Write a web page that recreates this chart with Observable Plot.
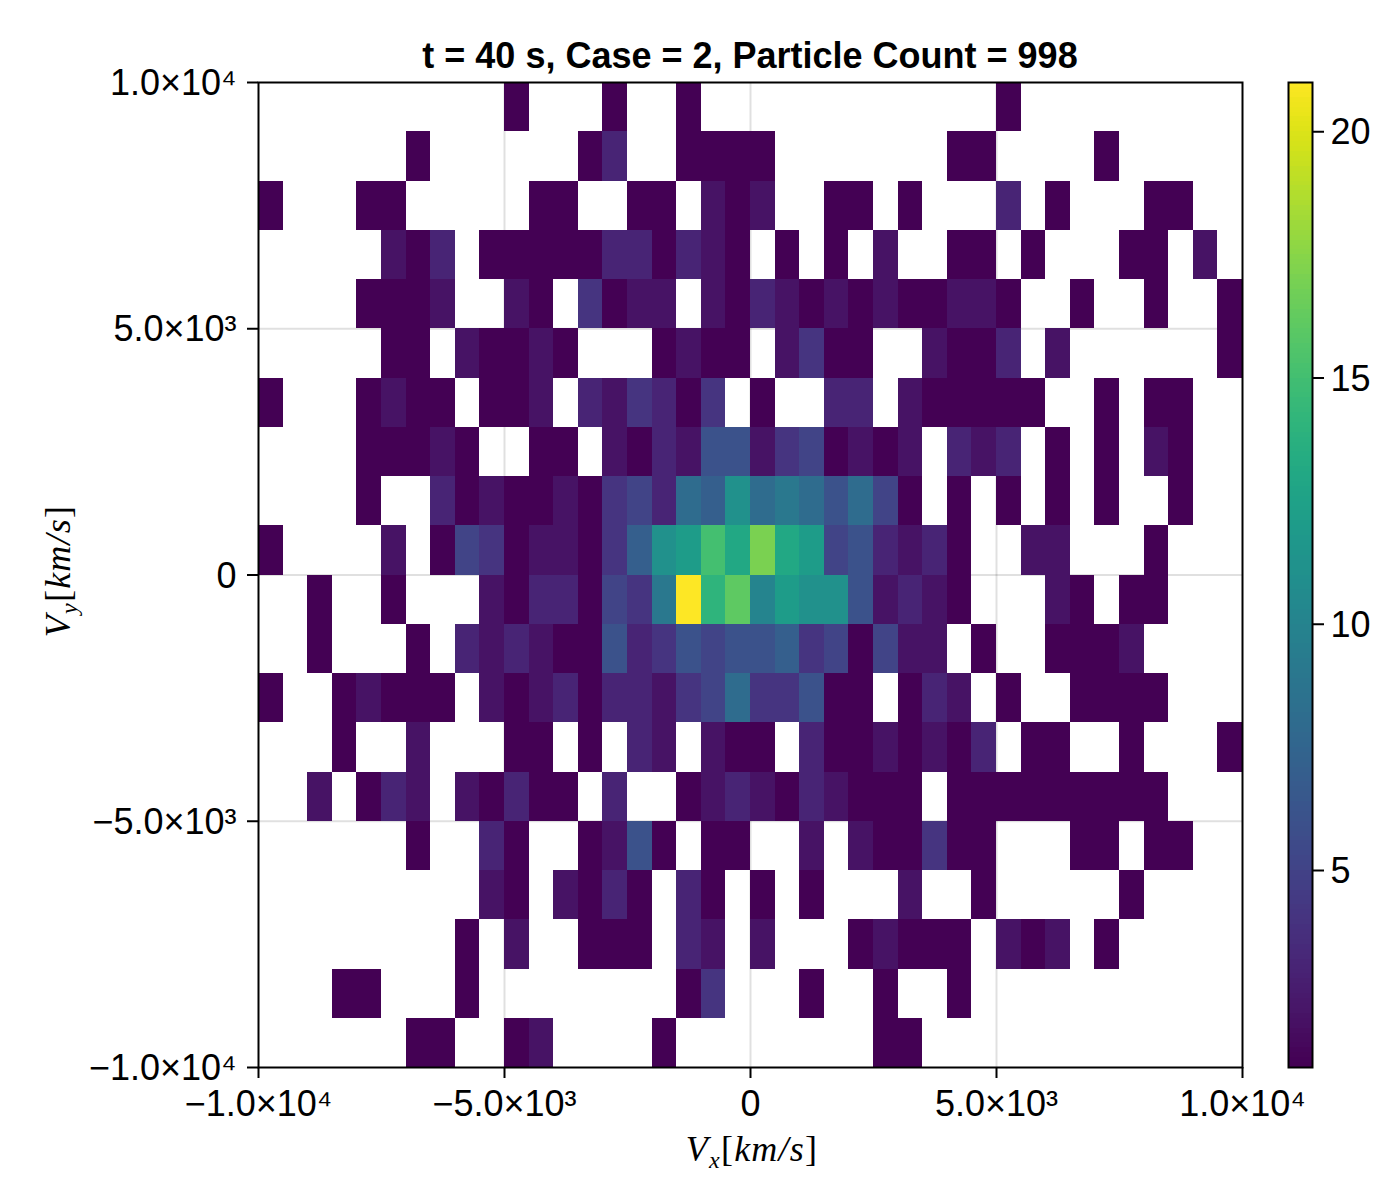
<!DOCTYPE html>
<html>
<head>
<meta charset="utf-8">
<script src="https://cdn.jsdelivr.net/npm/d3@7"></script>
<script src="https://cdn.jsdelivr.net/npm/@observablehq/plot@0.6"></script>
<style>
html,body{margin:0;padding:0;background:#fff;}
#wrap{position:relative;width:1400px;height:1200px;}
#wrap svg{position:absolute;top:0;overflow:visible;background:transparent;}
</style>
</head>
<body>
<div id="wrap"></div>
<script>
const titleText = "t = 40 s, Case = 2, Particle Count = 998";
const xDomain = [-10000, 10000];
const yDomain = [-10000, 10000];
const binWidth = 500;
const binHeight = 1000;
const axisTicks = [-10000, -5000, 0, 5000, 10000];
const axisTickLabels = ["\u22121.0×10\u2074", "\u22125.0×10\u00B3", "0", "5.0×10\u00B3", "1.0×10\u2074"];
const colorDomain = [1, 21];
const colorTicks = [5, 10, 15, 20];
// rows top (Vy 9000..10000) to bottom (Vy -10000..-9000); 0 = empty bin
const counts = [
[0,0,0,0,0,0,0,0,0,0, 1,0,0,0,1,0,0,1,0,0, 0,0,0,0,0,0,0,0,0,0, 1,0,0,0,0,0,0,0,0,0],
[0,0,0,0,0,0,1,0,0,0, 0,0,0,1,3,0,0,1,1,1, 1,0,0,0,0,0,0,0,1,1, 0,0,0,0,1,0,0,0,0,0],
[1,0,0,0,1,1,0,0,0,0, 0,1,1,0,0,1,1,0,2,1, 2,0,0,1,1,0,1,0,0,0, 3,0,1,0,0,0,1,1,0,0],
[0,0,0,0,0,2,1,3,0,1, 1,1,1,1,3,3,1,3,2,1, 0,1,0,1,0,2,0,0,1,1, 0,1,0,0,0,1,1,0,2,0],
[0,0,0,0,1,1,1,2,0,0, 2,1,0,4,1,2,2,0,2,1, 3,2,1,2,1,2,1,1,2,2, 1,0,0,1,0,0,1,0,0,1],
[0,0,0,0,0,1,1,0,2,1, 1,2,1,0,0,0,1,2,1,1, 0,2,4,1,1,0,0,2,1,1, 3,0,2,0,0,0,0,0,0,1],
[1,0,0,0,1,2,1,1,0,1, 1,2,0,3,2,4,3,1,4,0, 1,0,0,3,3,0,2,1,1,1, 1,1,0,0,1,0,1,1,0,0],
[0,0,0,0,1,1,1,2,1,0, 0,1,1,0,2,1,3,2,6,6, 2,4,5,1,2,1,2,0,3,2, 3,0,1,0,1,0,2,1,0,0],
[0,0,0,0,1,0,0,3,1,2, 1,1,2,1,4,5,3,8,7,11, 8,9,8,6,8,5,1,0,1,0, 1,0,1,0,1,0,0,1,0,0],
[1,0,0,0,0,2,0,1,5,4, 1,2,2,1,4,7,11,12,15,13, 17,13,12,5,6,3,2,3,1,0, 0,2,2,0,0,0,1,0,0,0],
[0,0,1,0,0,1,0,0,0,2, 1,3,3,1,5,4,9,21,14,16, 10,12,11,11,6,2,3,2,1,0, 0,0,2,1,0,1,1,0,0,0],
[0,0,1,0,0,0,1,0,3,2, 3,2,1,1,6,3,4,6,5,6, 6,7,4,5,1,5,2,2,0,1, 0,0,1,1,1,2,0,0,0,0],
[1,0,0,1,2,1,1,1,0,2, 1,2,3,1,3,3,2,4,5,8, 4,4,6,1,1,0,1,3,2,0, 1,0,0,1,1,1,1,0,0,0],
[0,0,0,1,0,0,2,0,0,0, 1,1,0,1,0,3,2,0,2,1, 1,0,3,1,1,2,1,2,1,3, 0,1,1,0,0,1,0,0,0,1],
[0,0,2,0,1,3,2,0,2,1, 3,1,1,0,3,0,0,1,2,3, 2,1,3,2,1,1,1,0,1,1, 1,1,1,1,1,1,1,0,0,0],
[0,0,0,0,0,0,1,0,0,3, 1,0,0,1,2,6,1,0,1,1, 0,0,2,0,2,1,1,4,1,1, 0,0,0,1,1,0,1,1,0,0],
[0,0,0,0,0,0,0,0,0,2, 1,0,2,1,3,1,0,3,1,0, 1,0,1,0,0,0,2,0,0,1, 0,0,0,0,0,1,0,0,0,0],
[0,0,0,0,0,0,0,0,1,0, 2,0,0,1,1,1,0,3,2,0, 2,0,0,0,1,2,1,1,1,0, 2,1,2,0,1,0,0,0,0,0],
[0,0,0,1,1,0,0,0,1,0, 0,0,0,0,0,0,0,1,4,0, 0,0,1,0,0,1,0,0,1,0, 0,0,0,0,0,0,0,0,0,0],
[0,0,0,0,0,0,1,1,0,0, 1,2,0,0,0,0,1,0,0,0, 0,0,0,0,0,1,1,0,0,0, 0,0,0,0,0,0,0,0,0,0]
];

const cells = [];
counts.forEach((row, r) => row.forEach((v, c) => {
  if (v > 0) cells.push({
    x1: xDomain[0] + c * binWidth, x2: xDomain[0] + (c + 1) * binWidth,
    y2: yDomain[1] - r * binHeight, y1: yDomain[1] - (r + 1) * binHeight,
    v
  });
}));

const sans = "'Liberation Sans', Arial, sans-serif";
const labelOf = d => axisTickLabels[axisTicks.indexOf(d)];
const colorScale = {type: "linear", scheme: "viridis", domain: colorDomain};

const main = Plot.plot({
  width: 1400, height: 1200,
  marginLeft: 258, marginRight: 158, marginTop: 82, marginBottom: 133,
  style: {fontFamily: sans, fontSize: "36px", background: "transparent", color: "#000"},
  x: {domain: xDomain}, y: {domain: yDomain},
  color: colorScale,
  marks: [
    Plot.ruleX(axisTicks.slice(1, -1), {stroke: "#000", strokeOpacity: 0.12, strokeWidth: 2}),
    Plot.ruleY(axisTicks.slice(1, -1), {stroke: "#000", strokeOpacity: 0.12, strokeWidth: 2}),
    Plot.rect(cells, {x1: "x1", x2: "x2", y1: "y1", y2: "y2", fill: "v", inset: 0, shapeRendering: "crispEdges"}),
    Plot.frame({stroke: "#000", strokeWidth: 2}),
    Plot.axisX(axisTicks, {anchor: "bottom", label: null, tickFormat: labelOf, tickSize: 11, tickPadding: 12, strokeWidth: 2, fontSize: 36, stroke: "#000"}),
    Plot.axisY(axisTicks, {anchor: "left", label: null, tickFormat: () => "", tickSize: 11, strokeWidth: 2, stroke: "#000"}),
    Plot.axisY(axisTicks, {anchor: "left", label: null, tickFormat: labelOf, tickSize: 0, tickPadding: 22, dy: 1, fontSize: 36})
  ]
});

// Title and math-style axis labels
const svg = d3.select(main);
svg.append("text").attr("x", 750).attr("y", 68).attr("text-anchor", "middle")
  .attr("font-family", sans).attr("font-weight", "bold").attr("font-size", 36).attr("fill", "#000")
  .text(titleText);

function mathLabel(parent, sub) {
  const serif = "'Liberation Serif', 'DejaVu Serif', serif";
  const t = parent.append("text").attr("text-anchor", "middle").attr("font-family", serif)
    .attr("font-size", 36).attr("letter-spacing", 1.2).attr("fill", "#000");
  t.append("tspan").attr("font-style", "italic").text("V");
  t.append("tspan").attr("font-style", "italic").attr("font-size", 24).attr("dy", 7).text(sub);
  t.append("tspan").attr("dy", -7).text("[");
  t.append("tspan").attr("font-style", "italic").text("km/s");
  t.append("tspan").text("]");
  return t;
}
mathLabel(svg, "x").attr("x", 752).attr("y", 1161);
mathLabel(svg, "y").attr("transform", "translate(70,571) rotate(-90)");

const bandStep = 0.1;
const bands = d3.range(colorDomain[0], colorDomain[1], bandStep).map(v => ({v, v2: v + bandStep}));
const bar = Plot.plot({
  width: 130, height: 1200,
  marginLeft: 18, marginRight: 88, marginTop: 82, marginBottom: 133,
  style: {fontFamily: sans, fontSize: "36px", background: "transparent", color: "#000"},
  x: {domain: [0, 1], axis: null},
  y: {domain: colorDomain},
  color: colorScale,
  marks: [
    Plot.rect(bands, {x1: 0, x2: 1, y1: "v", y2: "v2", fill: "v", shapeRendering: "crispEdges"}),
    Plot.frame({stroke: "#000", strokeWidth: 2}),
    Plot.axisY(colorTicks, {anchor: "right", label: null, tickFormat: () => "", tickSize: 11, strokeWidth: 2, stroke: "#000"}),
    Plot.axisY(colorTicks, {anchor: "right", label: null, tickSize: 0, tickPadding: 18, dy: 1, fontSize: 36})
  ]
});
bar.style.left = "1270px";

const wrap = document.getElementById("wrap");
wrap.appendChild(main);
wrap.appendChild(bar);
</script>
</body>
</html>
